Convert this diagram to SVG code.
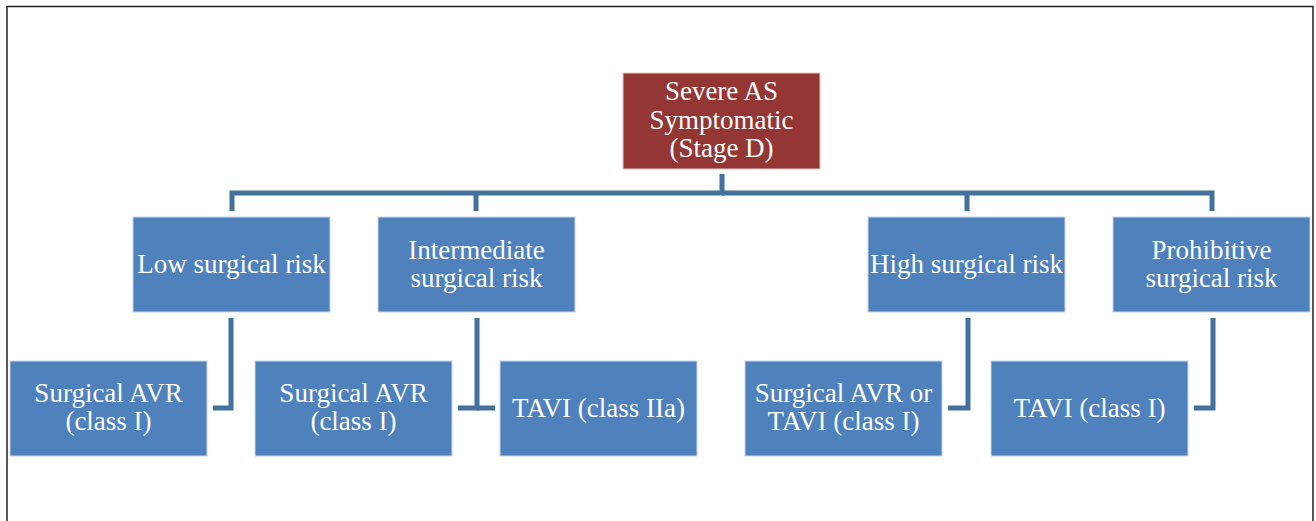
<svg xmlns="http://www.w3.org/2000/svg" width="1316" height="521" viewBox="0 0 1316 521">
<style>
.box{fill:#4f81bd;stroke:#c8d5e8;stroke-width:1}
.root{fill:#943634;stroke:#e0c8c8;stroke-width:1}
.t{font-family:"Liberation Serif","Times New Roman",serif;font-size:27px;fill:#ffffff;text-anchor:middle}
.c{fill:none;stroke:#41719c;stroke-width:5;stroke-linejoin:miter;stroke-linecap:butt}
</style>
<rect x="0" y="0" width="1316" height="521" fill="#ffffff"/>
<path d="M7,530 V6.5 H1313 V530" fill="none" stroke="#222" stroke-width="1.5"/>
<g id="connectors">
<path class="c" d="M722,174 V193 H232 V211"/>
<path class="c" d="M722,193 H1212 V211"/>
<path class="c" d="M476,193 V211"/>
<path class="c" d="M967,193 V211"/>
<path class="c" d="M231,318 V408 H213"/>
<path class="c" d="M477,318 V408 H458"/>
<path class="c" d="M477,408 H495"/>
<path class="c" d="M968,318 V408 H948"/>
<path class="c" d="M1213,318 V408 H1194"/>
</g>
<g id="root">
<rect class="root" x="623" y="73" width="197" height="96"/>
<text class="t" x="721.5" y="100">Severe AS</text>
<text class="t" x="721.5" y="128.5">Symptomatic</text>
<text class="t" x="721.5" y="157">(Stage D)</text>
</g>
<g id="low">
<rect class="box" x="133" y="217" width="197" height="95"/>
<text class="t" x="231.5" y="273">Low surgical risk</text>
</g>
<g id="intermediate">
<rect class="box" x="378" y="217" width="197" height="95"/>
<text class="t" x="476.5" y="259">Intermediate</text>
<text class="t" x="476.5" y="287">surgical risk</text>
</g>
<g id="high">
<rect class="box" x="868" y="217" width="197" height="95"/>
<text class="t" x="966.5" y="273">High surgical risk</text>
</g>
<g id="prohibitive">
<rect class="box" x="1113" y="217" width="197" height="95"/>
<text class="t" x="1211.5" y="259">Prohibitive</text>
<text class="t" x="1211.5" y="287">surgical risk</text>
</g>
<g id="savr1">
<rect class="box" x="10" y="361" width="197" height="95"/>
<text class="t" x="108.5" y="402">Surgical AVR</text>
<text class="t" x="108.5" y="430">(class I)</text>
</g>
<g id="savr2">
<rect class="box" x="255" y="361" width="197" height="95"/>
<text class="t" x="353.5" y="402">Surgical AVR</text>
<text class="t" x="353.5" y="430">(class I)</text>
</g>
<g id="tavi2a">
<rect class="box" x="500" y="361" width="197" height="95"/>
<text class="t" x="598.5" y="417">TAVI (class IIa)</text>
</g>
<g id="savrtavi">
<rect class="box" x="745" y="361" width="197" height="95"/>
<text class="t" x="843.5" y="402">Surgical AVR or</text>
<text class="t" x="843.5" y="430">TAVI (class I)</text>
</g>
<g id="tavi1">
<rect class="box" x="991" y="361" width="197" height="95"/>
<text class="t" x="1089.5" y="417">TAVI (class I)</text>
</g>
</svg>
